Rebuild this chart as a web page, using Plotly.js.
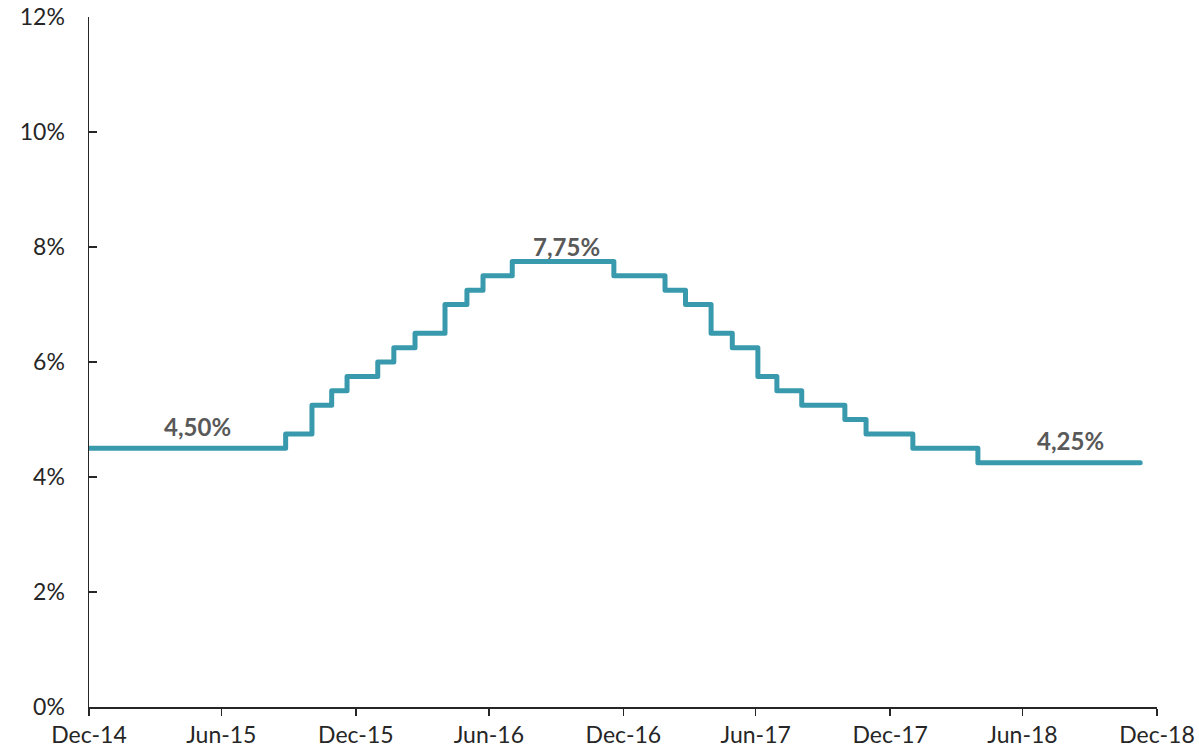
<!DOCTYPE html>
<html>
<head>
<meta charset="utf-8">
<script src="https://cdn.plot.ly/plotly-3.0.1.min.js"></script>
<style>
  html, body { margin: 0; padding: 0; background: #ffffff; }
  #chart { width: 1199px; height: 754px; }
  #chart .js-line { stroke-linejoin: round !important; stroke-linecap: round !important; }
</style>
</head>
<body>
<div id="chart"></div>
<script>
// Policy rate (%) — dates on which the rate changed, and the new rate
const changeDates = [
  '2014-12-31', '2015-09-26', '2015-11-01', '2015-11-28', '2015-12-19',
  '2016-01-30', '2016-02-21', '2016-03-21', '2016-05-01', '2016-05-31',
  '2016-06-22', '2016-08-01', '2016-12-18', '2017-02-26', '2017-03-26',
  '2017-04-30', '2017-05-29', '2017-07-03', '2017-07-29', '2017-09-01',
  '2017-10-30', '2017-11-28', '2018-01-31', '2018-04-30', '2018-12-08'
];
const rates = [
  4.50, 4.75, 5.25, 5.50, 5.75,
  6.00, 6.25, 6.50, 7.00, 7.25,
  7.50, 7.75, 7.50, 7.25, 7.00,
  6.50, 6.25, 5.75, 5.50, 5.25,
  5.00, 4.75, 4.50, 4.25, 4.25
];

// X-axis ticks
const tickDates = ['2014-12-31', '2015-06-30', '2015-12-31', '2016-06-30', '2016-12-31',
                   '2017-06-30', '2017-12-31', '2018-06-30', '2018-12-31'];
const tickLabels = ['Dec-14', 'Jun-15', 'Dec-15', 'Jun-16', 'Dec-16',
                    'Jun-17', 'Dec-17', 'Jun-18', 'Dec-18'];

// Y-axis ticks
const yTicks = [0, 2, 4, 6, 8, 10, 12];
const yTickLabels = ['0%', '2%', '4%', '6%', '8%', '10%', '12%'];

// Data labels
const labelDates = ['2015-05-29', '2016-10-14', '2018-09-04'];
const labelValues = [4.50, 7.75, 4.25];
const labelTexts = ['4,50%', '7,75%', '4,25%'];

const FONT = 'Lato, "Open Sans", "DejaVu Sans", sans-serif';
const labelShift = [5, -2, 6];

const trace = {
  type: 'scatter',
  mode: 'lines',
  x: changeDates,
  y: rates,
  line: { shape: 'hv', color: '#3A9AAD', width: 5 },
  hoverinfo: 'x+y'
};

const annotations = labelTexts.map((t, i) => ({
  x: labelDates[i],
  y: labelValues[i],
  xref: 'x', yref: 'y',
  text: '<b>' + t + '</b>',
  showarrow: false,
  yanchor: 'bottom',
  yshift: labelShift[i],
  font: { family: FONT, size: 24, color: '#595959' }
}));

const layout = {
  width: 1199,
  height: 754,
  margin: { l: 89, r: 42, t: 17, b: 47 },
  paper_bgcolor: '#ffffff',
  plot_bgcolor: '#ffffff',
  showlegend: false,
  font: { family: FONT, size: 23, color: '#262626' },
  xaxis: {
    type: 'date',
    range: ['2014-12-31', '2018-12-31'],
    tickmode: 'array',
    tickvals: tickDates,
    ticktext: tickLabels,
    showgrid: false,
    zeroline: false,
    showline: true,
    linecolor: '#262626',
    linewidth: 1.5,
    ticks: 'outside',
    ticklen: 7,
    tickwidth: 1.5,
    tickcolor: '#262626',
    tickfont: { family: FONT, size: 23, color: '#262626' }
  },
  yaxis: {
    range: [0, 12],
    tickmode: 'array',
    tickvals: yTicks,
    ticktext: yTickLabels,
    showgrid: false,
    zeroline: false,
    showline: true,
    linecolor: '#262626',
    linewidth: 1.5,
    ticks: 'inside',
    ticklen: 8,
    tickwidth: 1.5,
    tickcolor: '#262626',
    ticklabelstandoff: 18,
    tickfont: { family: FONT, size: 23, color: '#262626' }
  },
  annotations: annotations
};

Plotly.newPlot('chart', [trace], layout, { displayModeBar: false, staticPlot: true });
</script>
</body>
</html>
